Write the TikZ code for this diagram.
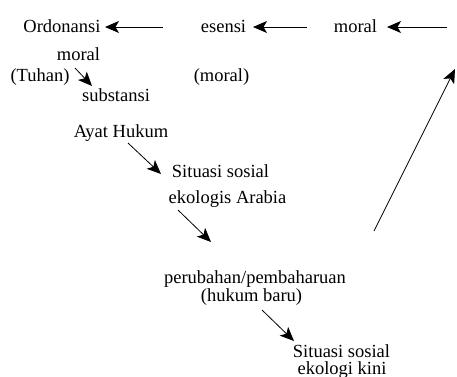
\documentclass[tikz,border=0pt]{standalone}
\usepackage{fontspec}
\setmainfont{Liberation Serif}
\usetikzlibrary{arrows.meta}
\begin{document}
\begin{tikzpicture}[x=1pt,y=-1pt,
  lbl/.style={anchor=base,inner sep=0pt,font=\fontsize{18.5}{21}\selectfont},
  arr/.style={-{Stealth[length=14pt,width=12pt,inset=3.5pt]},line width=0.8pt}]
\useasboundingbox (0,0) rectangle (457,376);
% text nodes
\node[lbl] (ord) at (62,32) {Ordonansi};
\node[lbl] (esensi) at (223.5,32) {esensi};
\node[lbl] (moralA) at (355.5,32) {moral};
\node[lbl] (moralB) at (78.5,60) {moral};
\node[lbl] (tuhan) at (40,81) {(Tuhan)};
\node[lbl] (moralC) at (221.5,81) {(moral)};
\node[lbl] (subst) at (116,101) {substansi};
\node[lbl] (ayat) at (121,137) {Ayat Hukum};
\node[lbl] (sit1) at (220.5,177) {Situasi sosial};
\node[lbl] (eko1) at (227.5,203) {ekologis Arabia};
\node[lbl] (perub) at (255,283) {perubahan/pembaharuan};
\node[lbl] (hukum) at (251.5,301) {(hukum baru)};
\node[lbl] (sit2) at (341.5,357) {Situasi sosial};
\node[lbl] (eko2) at (342,374) {ekologi kini};
% connector end points
\coordinate (a1s) at (163,27);  \coordinate (a1e) at (105,27);
\coordinate (a2s) at (307,27);  \coordinate (a2e) at (253,27);
\coordinate (a3s) at (447,27);  \coordinate (a3e) at (387,27);
\coordinate (a4s) at (75,68);   \coordinate (a4e) at (92,86);
\coordinate (a5s) at (128,143); \coordinate (a5e) at (161,174);
\coordinate (a6s) at (178,210); \coordinate (a6e) at (211,242);
\coordinate (a7s) at (374,231); \coordinate (a7e) at (455,69);
\coordinate (a8s) at (262,310); \coordinate (a8e) at (294,341);
% connectors
\draw[arr] (a1s) -- (a1e);
\draw[arr] (a2s) -- (a2e);
\draw[arr] (a3s) -- (a3e);
\draw[arr] (a4s) -- (a4e);
\draw[arr] (a5s) -- (a5e);
\draw[arr] (a6s) -- (a6e);
\draw[arr] (a7s) -- (a7e);
\draw[arr] (a8s) -- (a8e);
\end{tikzpicture}
\end{document}
